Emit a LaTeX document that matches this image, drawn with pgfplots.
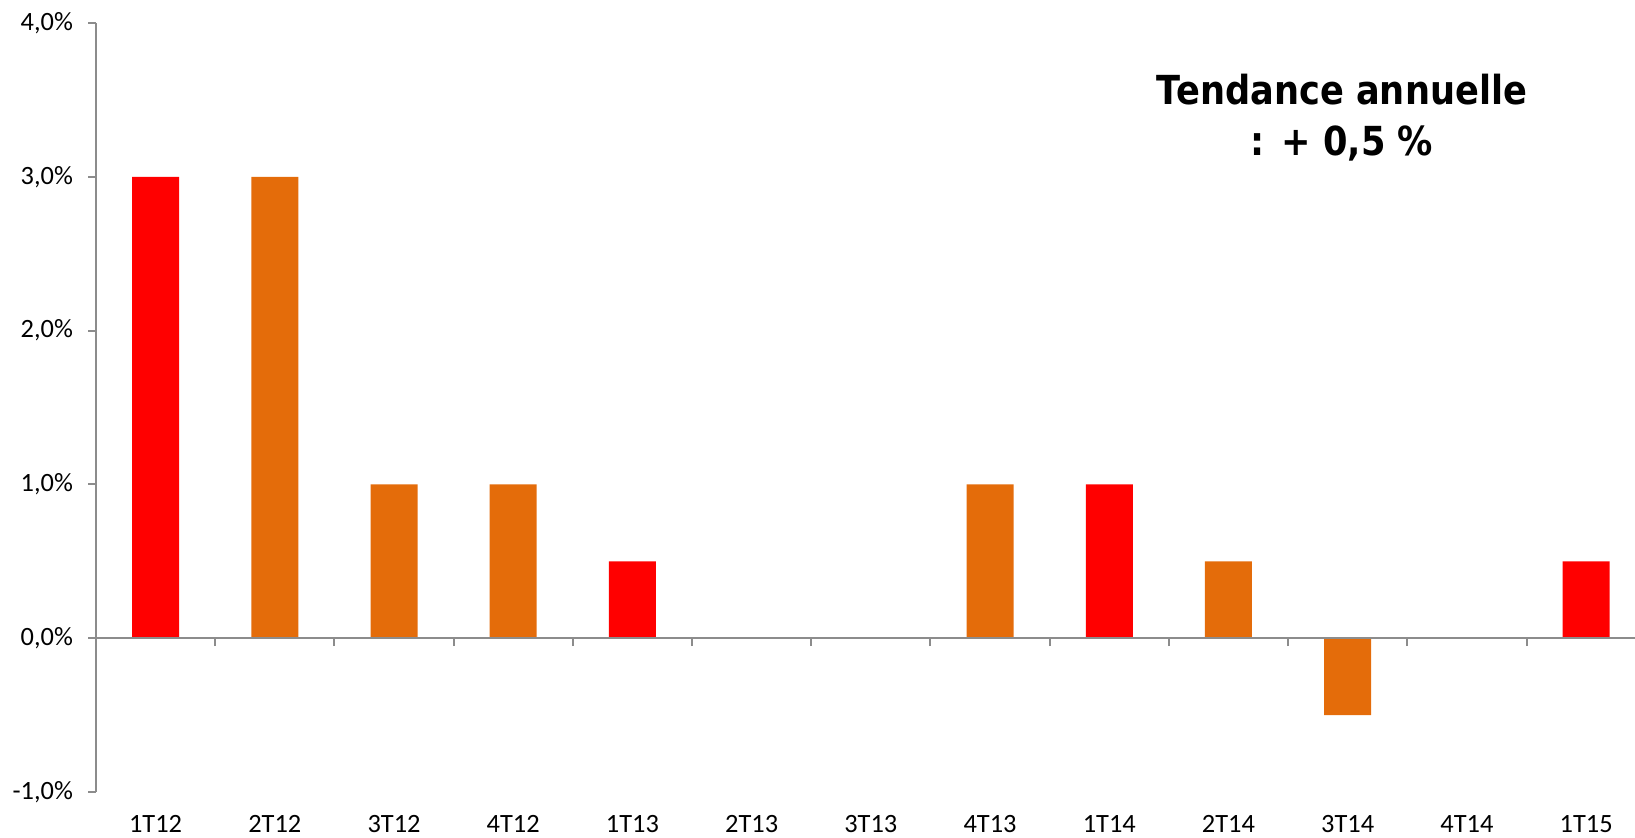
\documentclass[border=0pt]{standalone}
\usepackage{pgfplots}
\pgfplotsset{compat=1.18}
\usepackage{fontspec}
\setmainfont{Carlito}
\newfontfamily\titlefont[FakeStretch=0.88]{DejaVu Sans}
\definecolor{barred}{HTML}{FF0000}
\definecolor{barorange}{HTML}{E46C0A}
\definecolor{axgray}{HTML}{8C8C8C}
\begin{document}
\begin{tikzpicture}
\begin{axis}[name=a, at={(0,0)}, anchor=south west, scale only axis,
  width=769.5pt, height=384.5pt,
  xmin=-0.5, xmax=12.41, ymin=-1, ymax=4,
  axis y line*=left, axis x line*=bottom,
  x axis line style={draw=none},
  y axis line style={axgray, line width=1pt},
  xtick={0,...,12},
  xticklabels={1T12,2T12,3T12,4T12,1T13,2T13,3T13,4T13,1T14,2T14,3T14,4T14,1T15},
  x tick style={draw=none},
  ytick={-1,0,1,2,3,4},
  yticklabels={{-1,0\%},{0,0\%},{1,0\%},{2,0\%},{3,0\%},{4,0\%}},
  y tick style={axgray, line width=1pt},
  tick align=outside, major tick length=4pt,
  ticklabel style={font=\fontsize{13.2}{15}\selectfont, text=black},
  xticklabel style={anchor=base, yshift=-16pt},
  yticklabel style={anchor=east, xshift=-4pt},
  ybar, bar width=23.5pt, bar shift=0pt,
  clip=false,
]
\addplot[draw=none, fill=barred] coordinates {(0,3) (4,0.5) (8,1) (12,0.5)};
\addplot[draw=none, fill=barorange] coordinates {(1,3) (2,1) (3,1) (5,0) (6,0) (7,1) (9,0.5) (10,-0.5) (11,0)};
\end{axis}
\begin{axis}[at={(0,0)}, anchor=south west, scale only axis,
  width=769.5pt, height=384.5pt,
  xmin=-0.5, xmax=12.41, ymin=-1, ymax=4,
  axis x line=middle, axis y line=none,
  x axis line style={axgray, line width=1pt, -},
  xtick={0.5,1.5,...,11.5}, xticklabels={},
  x tick style={axgray, line width=1pt},
  tick align=outside, major tick length=4pt,
]
\end{axis}
\node[font=\titlefont\bfseries\fontsize{20}{25.5}\selectfont, align=center] at ([shift={(623pt,337pt)}]a.south west) {Tendance annuelle\\: + 0,5 \%};
\pgfresetboundingbox
\path[use as bounding box] ([shift={(-48pt,-22.5pt)}]a.south west) rectangle ([shift={(769.5pt,396pt)}]a.south west);
\end{tikzpicture}
\end{document}
